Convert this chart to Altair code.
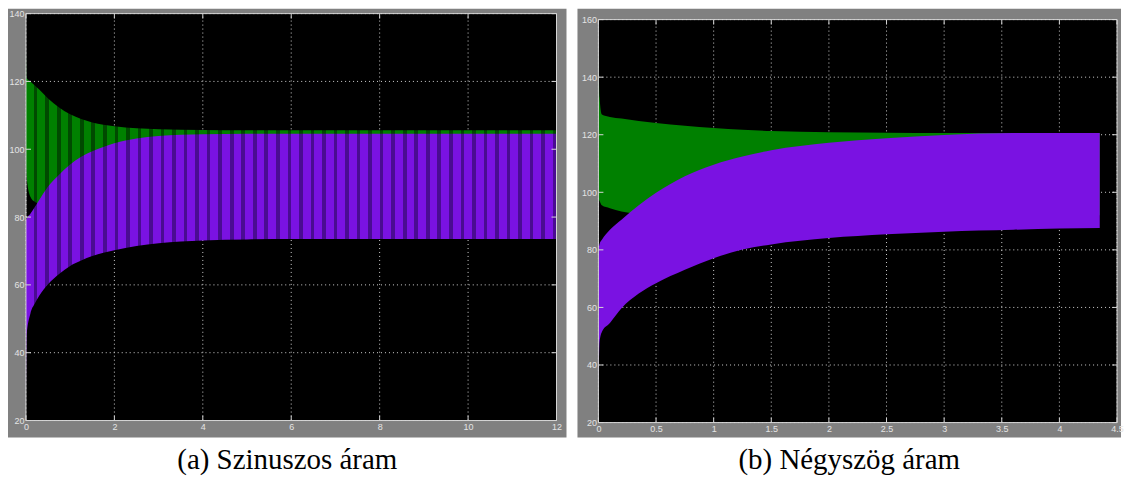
import altair as alt
import pandas as pd

# ---------------- (a) Szinuszos áram ----------------
t_sin = [0, 0.015, 0.1, 0.2, 0.3, 0.5, 0.75, 1.0, 1.25, 1.5, 2.0, 2.5, 3.0, 4.0, 5.0, 6.0, 8.0, 10.0, 12.0]
green_up_sin = [130, 121, 120, 118.8, 117.6, 115, 112.3, 110.3, 108.9, 107.9, 106.8, 106.2, 105.9, 105.7, 105.6, 105.6, 105.6, 105.6, 105.6]
green_lo_sin = [96, 92, 86, 84.5, 84, 84, 84, 84, 84, 84, 84, 84, 84, 84, 84, 84, 84, 84, 84]
purple_up_sin = [79, 79.5, 81, 83, 85, 89, 92.5, 95.5, 97.8, 99.4, 101.8, 103.2, 103.9, 104.4, 104.6, 104.6, 104.6, 104.6, 104.6]
purple_lo_sin = [25, 45, 51.5, 54.5, 56.8, 60.2, 63.2, 65.6, 67.2, 68.5, 70.2, 71.5, 72.3, 73.1, 73.4, 73.5, 73.5, 73.5, 73.5]
xticks_sin = [0, 2, 4, 6, 8, 10, 12]
yticks_sin = [20, 40, 60, 80, 100, 120, 140]

# ---------------- (b) Négyszög áram ----------------
t_sq = [0, 0.01, 0.03, 0.1, 0.2, 0.35, 0.5, 0.75, 1.0, 1.25, 1.5, 2.0, 2.5, 3.0, 3.3, 3.6, 4.0, 4.35]
green_up_sq = [150, 133, 127, 126.2, 125.6, 124.8, 124.1, 123.1, 122.3, 121.7, 121.3, 120.9, 120.7, 120.6, 120.6, 120.6, 120.6, 120.6]
green_lo_sq = [98, 97, 95.5, 94.5, 93.3, 92.5, 92, 92, 92, 92, 92, 92, 92, 92, 92, 92, 92, 92]
purple_up_sq = [80, 82, 83.5, 87, 90.5, 95.5, 99.8, 105.6, 109.6, 112.4, 114.6, 117.2, 118.8, 119.9, 120.4, 120.6, 120.6, 120.6]
purple_lo_sq = [30, 48, 51.5, 54.6, 59.7, 64.8, 68.4, 73.1, 77.1, 80.1, 81.9, 84.1, 85.4, 86.3, 86.7, 87.0, 87.4, 87.6]
xticks_sq = [0, 0.5, 1, 1.5, 2, 2.5, 3, 3.5, 4, 4.5]
yticks_sq = [20, 40, 60, 80, 100, 120, 140, 160]

captions = ["(a) Szinuszos áram", "(b) Négyszög áram"]

# ---------------- styles ----------------
GREY = "#808080"
GREEN = "#008000"
GREEN_DARK = "#004A00"
PURPLE = "#7A12E2"
PURPLE_DARK = "#4A0C92"
GRID = "#cfcfcf"
FRAME = "#d6d6d6"
LABEL = "#e4e4e4"


def stripes(bright, dark, n_stripes, duty=0.68):
    stops = []
    step = 1.0 / n_stripes
    for k in range(n_stripes):
        a = k * step
        b = a + duty * step
        c = min(1.0, a + step)
        stops += [alt.GradientStop(offset=a, color=bright), alt.GradientStop(offset=b, color=bright),
                  alt.GradientStop(offset=b, color=dark), alt.GradientStop(offset=c, color=dark)]
    return alt.LinearGradient(gradient="linear", x1=0, x2=1, y1=0, y2=0, stops=stops)


def panel(t, gu, gl, pu, pl, xt, yt, xdom, ydom, w, h, xoff, yoff, caption, striped):
    df = pd.DataFrame({"t": t, "gu": gu, "gl": gl, "pu": pu, "pl": pl})
    box = pd.DataFrame({"x0": [xt[0]], "x1": [xt[-1]], "y0": [yt[0]], "y1": [yt[-1]]})
    xg = pd.DataFrame({"v": xt})
    yg = pd.DataFrame({"v": yt})
    xs = alt.Scale(domain=xdom, nice=False, zero=False)
    ys = alt.Scale(domain=ydom, nice=False, zero=False)
    common = dict(title=None, domain=False, ticks=False, grid=False, labelColor=LABEL,
                  labelFont="Liberation Sans", labelFontSize=9, labelPadding=2,
                  labelFlush=False, labelOverlap=False, format="~f")
    ax = alt.Axis(values=xt, offset=xoff, **common)
    ay = alt.Axis(values=yt, offset=yoff, **common)

    bg = alt.Chart(box).mark_rect(color="black").encode(
        x=alt.X("x0:Q", scale=xs, axis=ax), x2="x1", y=alt.Y("y0:Q", scale=ys, axis=ay), y2="y1")
    vgrid = alt.Chart(xg).mark_rule(color=GRID, strokeDash=[1, 3], strokeWidth=1).encode(
        x=alt.X("v:Q", scale=xs, axis=ax), y=alt.Y(datum=yt[0], scale=ys, axis=ay), y2=alt.Y2(datum=yt[-1]))
    hgrid = alt.Chart(yg).mark_rule(color=GRID, strokeDash=[1, 3], strokeWidth=1).encode(
        y=alt.Y("v:Q", scale=ys, axis=ay), x=alt.X(datum=xt[0], scale=xs, axis=ax), x2=alt.X2(datum=xt[-1]))

    if striped:
        gcol = stripes(GREEN, GREEN_DARK, 46)
        pcol = stripes(PURPLE, PURPLE_DARK, 46)
    else:
        gcol = GREEN
        pcol = PURPLE
    green = alt.Chart(df).mark_area(color=gcol, interpolate="monotone").encode(
        x=alt.X("t:Q", scale=xs, axis=ax), y=alt.Y("gu:Q", scale=ys, axis=ay), y2="gl")
    purple = alt.Chart(df).mark_area(color=pcol, interpolate="monotone").encode(
        x=alt.X("t:Q", scale=xs, axis=ax), y=alt.Y("pu:Q", scale=ys, axis=ay), y2="pl")

    tk = dict(color=FRAME, strokeWidth=1)
    tb = alt.Chart(xg).mark_rule(y2Offset=-5, **tk).encode(
        x=alt.X("v:Q", scale=xs, axis=ax), y=alt.Y(datum=yt[0], scale=ys, axis=ay), y2=alt.Y2(datum=yt[0]))
    tt = alt.Chart(xg).mark_rule(y2Offset=5, **tk).encode(
        x=alt.X("v:Q", scale=xs, axis=ax), y=alt.Y(datum=yt[-1], scale=ys, axis=ay), y2=alt.Y2(datum=yt[-1]))
    tl = alt.Chart(yg).mark_rule(x2Offset=5, **tk).encode(
        y=alt.Y("v:Q", scale=ys, axis=ay), x=alt.X(datum=xt[0], scale=xs, axis=ax), x2=alt.X2(datum=xt[0]))
    tr = alt.Chart(yg).mark_rule(x2Offset=-5, **tk).encode(
        y=alt.Y("v:Q", scale=ys, axis=ay), x=alt.X(datum=xt[-1], scale=xs, axis=ax), x2=alt.X2(datum=xt[-1]))
    border = alt.Chart(box).mark_rect(filled=False, color=FRAME, strokeWidth=1).encode(
        x=alt.X("x0:Q", scale=xs, axis=ax), x2="x1", y=alt.Y("y0:Q", scale=ys, axis=ay), y2="y1")

    return alt.layer(bg, vgrid, hgrid, green, purple, tb, tt, tl, tr, border).properties(
        width=w, height=h,
        title=alt.TitleParams(caption, orient="bottom", anchor="middle", font="Liberation Serif",
                              fontSize=29, fontWeight="normal", color="black", offset=9))


left = panel(t_sin, green_up_sin, green_lo_sin, purple_up_sin, purple_lo_sin,
             xticks_sin, yticks_sin, [-0.406, 12.226], [15.0, 141.47], 560, 430, -17, -18,
             captions[0], True)
right = panel(t_sq, green_up_sq, green_lo_sq, purple_up_sq, purple_lo_sq,
              xticks_sq, yticks_sq, [-0.1817, 4.5346], [14.82, 163.81], 545, 430, -15, -21,
              captions[1], False)

chart = alt.hconcat(left, right, spacing=11).properties(padding=0, background="white").configure_view(
    fill=GREY, stroke=None)

chart.save("out.html", embed_options={"renderer": "svg", "actions": False})
